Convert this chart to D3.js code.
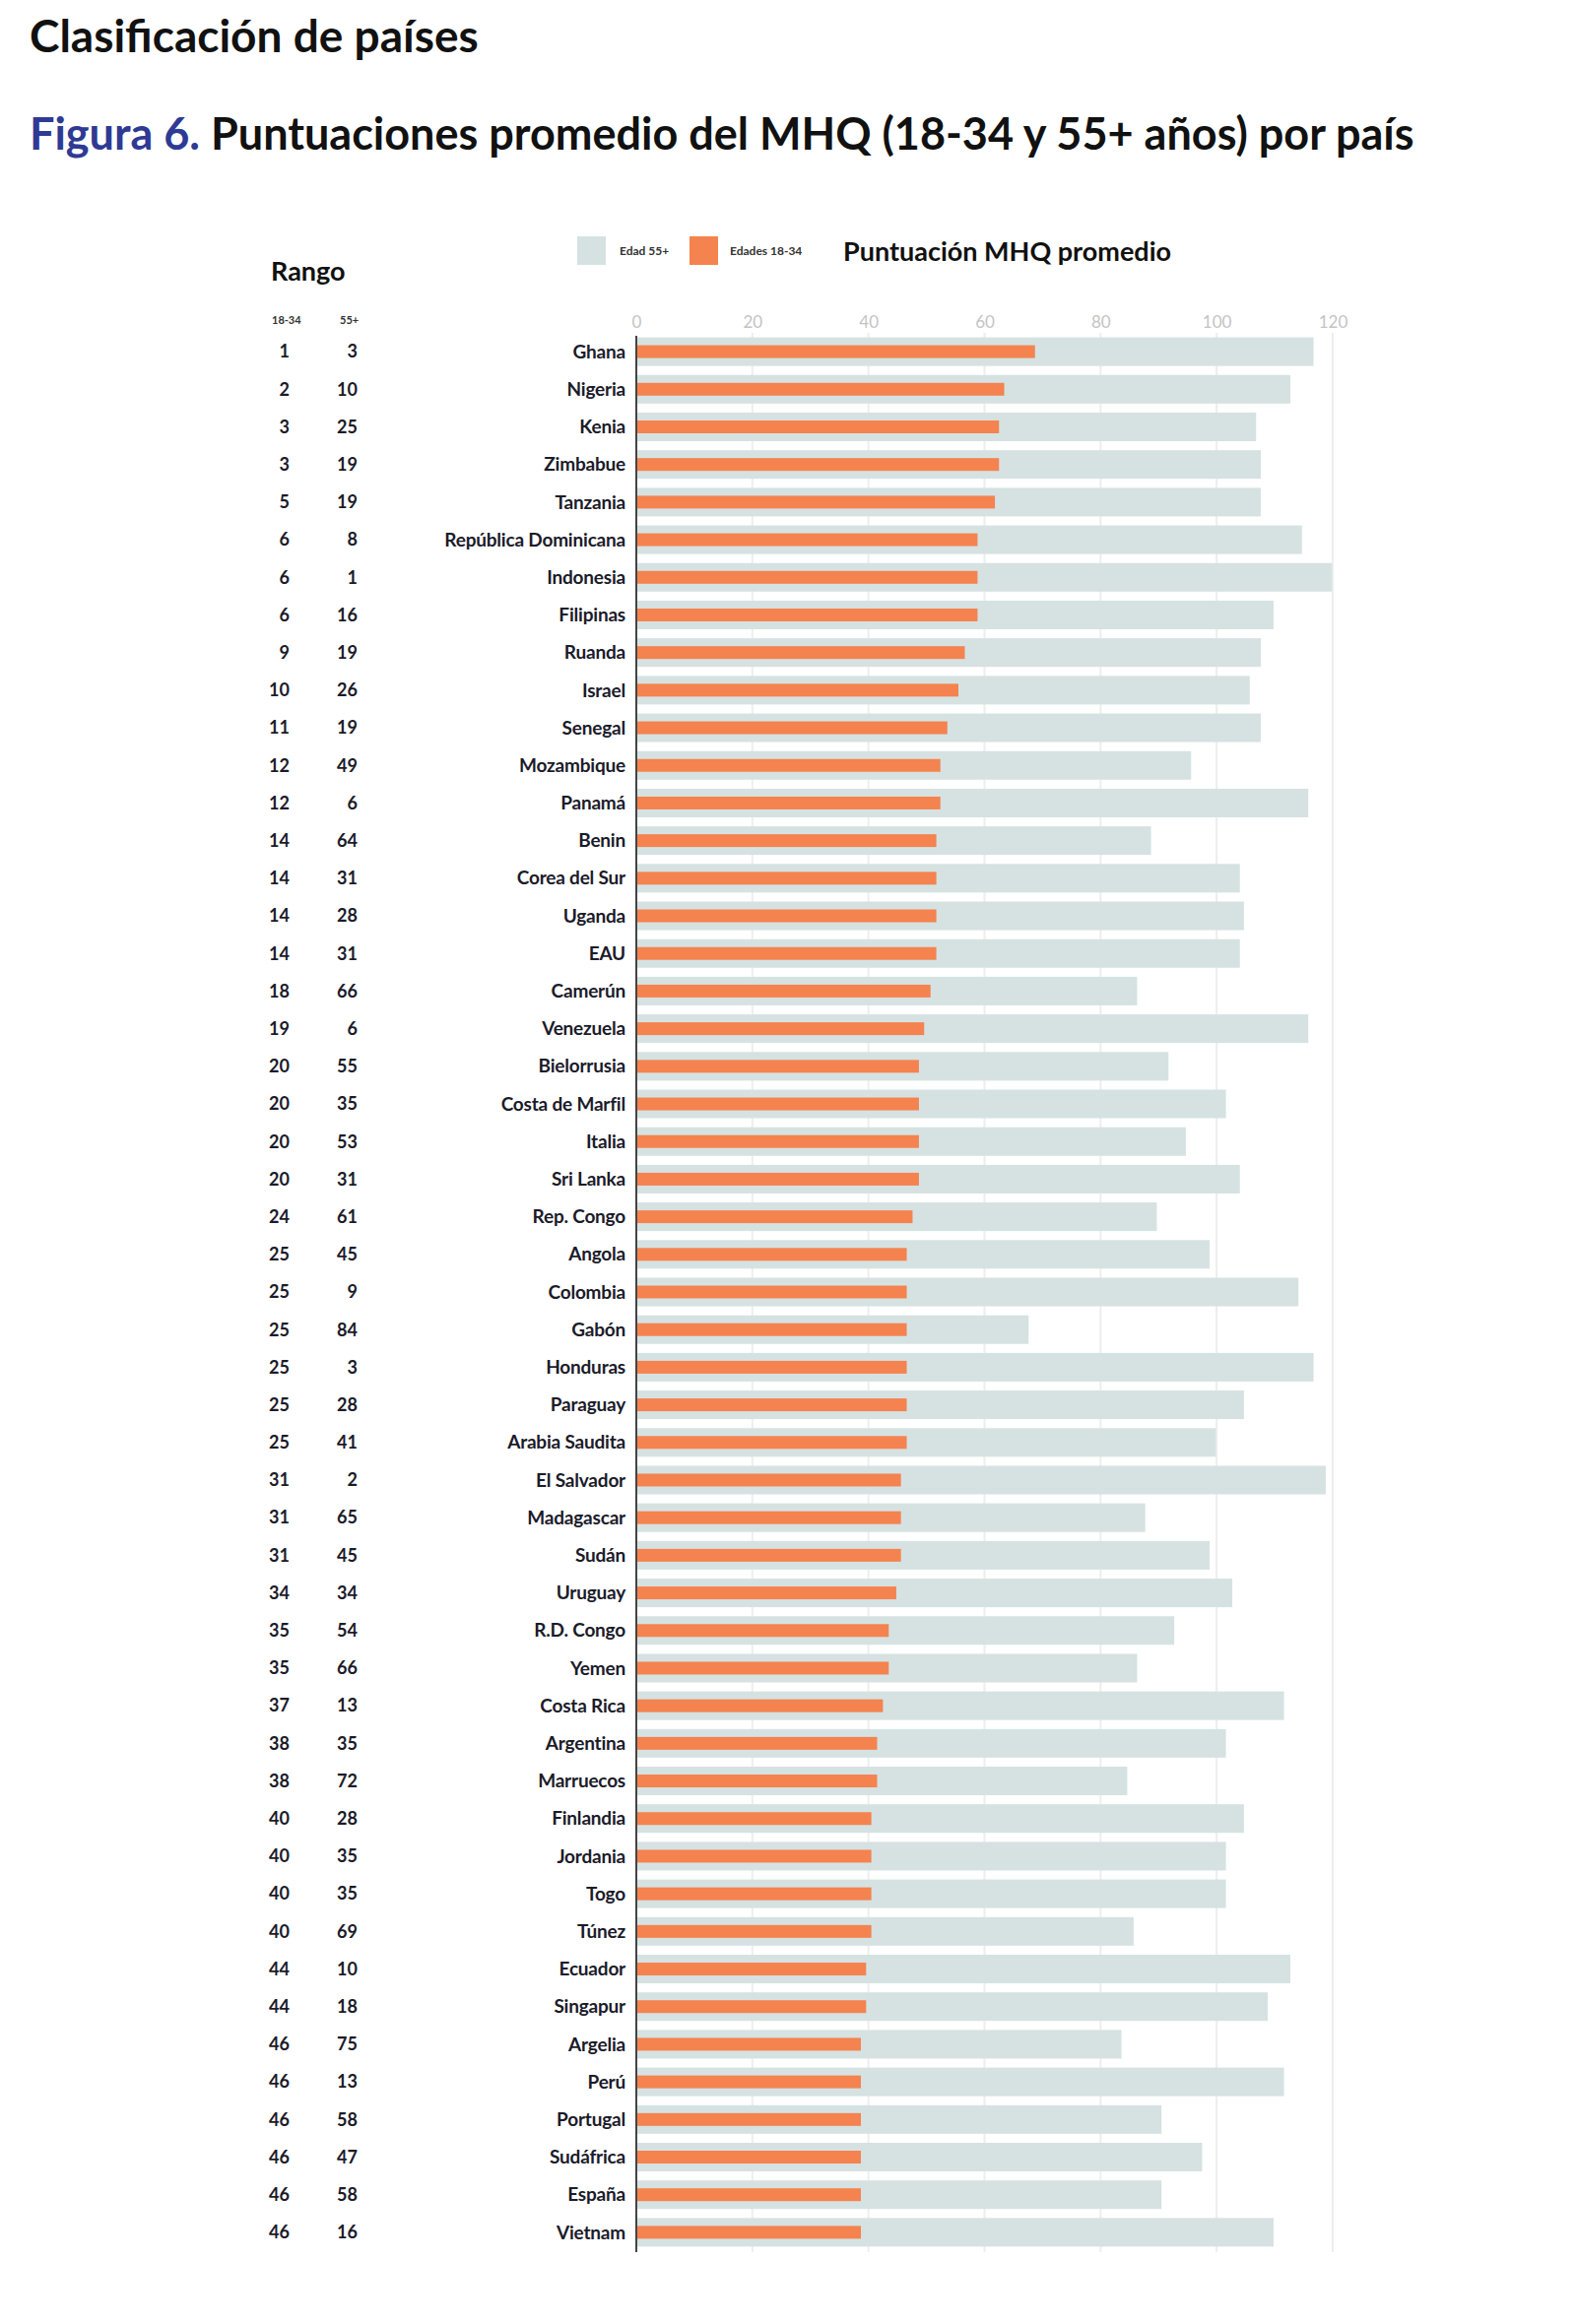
<!DOCTYPE html>
<html>
<head>
<meta charset="utf-8">
<script src="https://cdn.jsdelivr.net/npm/d3@7"></script>
<style>
  body { margin: 0; background: #fff; }
  text { font-family: Lato, "Open Sans", sans-serif; }
</style>
</head>
<body>
<svg id="chart" width="1600" height="2360"></svg>
<script>
// datos
const paises = ["Ghana","Nigeria","Kenia","Zimbabue","Tanzania","República Dominicana","Indonesia","Filipinas","Ruanda","Israel","Senegal","Mozambique","Panamá","Benin","Corea del Sur","Uganda","EAU","Camerún","Venezuela","Bielorrusia","Costa de Marfil","Italia","Sri Lanka","Rep. Congo","Angola","Colombia","Gabón","Honduras","Paraguay","Arabia Saudita","El Salvador","Madagascar","Sudán","Uruguay","R.D. Congo","Yemen","Costa Rica","Argentina","Marruecos","Finlandia","Jordania","Togo","Túnez","Ecuador","Singapur","Argelia","Perú","Portugal","Sudáfrica","España","Vietnam"];

const rango1834 = [1,2,3,3,5,6,6,6,9,10,11,12,12,14,14,14,14,18,19,20,20,20,20,24,25,25,25,25,25,25,31,31,31,34,35,35,37,38,38,40,40,40,40,44,44,46,46,46,46,46,46];
const rango55 = [3,10,25,19,19,8,1,16,19,26,19,49,6,64,31,28,31,66,6,55,35,53,31,61,45,9,84,3,28,41,2,65,45,34,54,66,13,35,72,28,35,35,69,10,18,75,13,58,47,58,16];

const mhq1834 = [68.7,63.4,62.5,62.5,61.8,58.8,58.8,58.8,56.6,55.5,53.6,52.4,52.4,51.7,51.7,51.7,51.7,50.7,49.6,48.7,48.7,48.7,48.7,47.6,46.6,46.6,46.6,46.6,46.6,46.6,45.6,45.6,45.6,44.8,43.5,43.5,42.5,41.5,41.5,40.5,40.5,40.5,40.5,39.6,39.6,38.7,38.7,38.7,38.7,38.7,38.7];
const mhq55 = [116.7,112.7,106.8,107.6,107.6,114.7,119.9,109.8,107.6,105.7,107.6,95.6,115.8,88.7,104.0,104.7,104.0,86.3,115.8,91.7,101.6,94.7,104.0,89.7,98.8,114.1,67.6,116.7,104.7,99.9,118.8,87.7,98.8,102.7,92.7,86.3,111.6,101.6,84.6,104.7,101.6,101.6,85.7,112.7,108.8,83.6,111.6,90.5,97.5,90.5,109.8];

const ticks = [0,20,40,60,80,100,120];

const gris = "#d6e2e2", naranja = "#f4834f", azul = "#2e3a94";

const svg = d3.select("#chart");
svg.append("rect").attr("width",1600).attr("height",2360).attr("fill","#fff");

const datos = paises.map((p,i) => ({pais:p, r1:rango1834[i], r2:rango55[i], a:mhq1834[i], b:mhq55[i]}));

const x = d3.scaleLinear().domain([0,120]).range([646,1353]);
const y = d3.scaleBand().domain(paises).range([338,2286]).paddingInner(0.24).paddingOuter(0.12);

// titulos
svg.append("text").attr("x",30).attr("y",53)
  .attr("font-size",46).attr("font-weight",700).attr("fill","#111")
  .text("Clasificación de países");

const t2 = svg.append("text").attr("x",30).attr("y",152)
  .attr("font-size",45).attr("font-weight",700).attr("fill","#111");
t2.append("tspan").attr("fill",azul).text("Figura 6. ");
t2.append("tspan").text("Puntuaciones promedio del MHQ (18-34 y 55+ años) por país");

// leyenda
svg.append("rect").attr("x",586).attr("y",240).attr("width",29).attr("height",29).attr("fill",gris);
svg.append("text").attr("x",629).attr("y",259).attr("font-size",12).attr("font-weight",700).attr("fill","#333").text("Edad 55+");
svg.append("rect").attr("x",700).attr("y",240).attr("width",29).attr("height",29).attr("fill",naranja);
svg.append("text").attr("x",741).attr("y",259).attr("font-size",12).attr("font-weight",700).attr("fill","#333").text("Edades 18-34");
svg.append("text").attr("x",856).attr("y",265).attr("font-size",27).attr("font-weight",700).attr("fill","#111").text("Puntuación MHQ promedio");

// encabezado rango
svg.append("text").attr("x",275).attr("y",285).attr("font-size",27).attr("font-weight",700).attr("fill","#111").text("Rango");
svg.append("text").attr("x",276).attr("y",329).attr("font-size",11).attr("font-weight",700).attr("fill","#333").text("18-34");
svg.append("text").attr("x",345).attr("y",329).attr("font-size",11).attr("font-weight",700).attr("fill","#333").text("55+");

// rejilla y ticks
const ejeX = d3.axisTop(x).tickValues(ticks).tickSize(0).tickPadding(0);
const gx = svg.append("g").attr("transform","translate(0,333)").call(ejeX);
gx.select(".domain").remove();
gx.selectAll("text").attr("font-size",17).attr("fill","#c4c4c4").attr("font-family","Lato, sans-serif");

svg.append("g").selectAll("line").data(ticks.slice(1)).join("line")
  .attr("x1",d => x(d)).attr("x2",d => x(d))
  .attr("y1",338).attr("y2",2287)
  .attr("stroke","#eeeeee").attr("stroke-width",2);

// barras 55+
svg.append("g").selectAll("rect").data(datos).join("rect")
  .attr("x",x(0)).attr("y",d => y(d.pais))
  .attr("width",d => x(d.b)-x(0)).attr("height",y.bandwidth())
  .attr("fill",gris);

// barras 18-34
const hN = 13;
svg.append("g").selectAll("rect").data(datos).join("rect")
  .attr("x",x(0)).attr("y",d => y(d.pais)+(y.bandwidth()-hN)/2)
  .attr("width",d => x(d.a)-x(0)).attr("height",hN)
  .attr("fill",naranja);

// eje vertical
svg.append("line").attr("x1",x(0)).attr("x2",x(0))
  .attr("y1",341).attr("y2",2287).attr("stroke","#444").attr("stroke-width",2);

// etiquetas
const filas = svg.append("g").selectAll("g").data(datos).join("g")
  .attr("transform",d => `translate(0,${y(d.pais)+y.bandwidth()/2})`);
filas.append("text").attr("x",635).attr("dy","0.35em").attr("text-anchor","end")
  .attr("font-size",19).attr("font-weight",700).attr("fill","#1b1b2a").attr("letter-spacing",-0.2)
  .text(d => d.pais);
filas.append("text").attr("x",294).attr("dy","0.35em").attr("text-anchor","end")
  .attr("font-size",18).attr("font-weight",700).attr("fill","#1b1b2a")
  .text(d => d.r1);
filas.append("text").attr("x",363).attr("dy","0.35em").attr("text-anchor","end")
  .attr("font-size",18).attr("font-weight",700).attr("fill","#1b1b2a")
  .text(d => d.r2);
</script>
</body>
</html>
